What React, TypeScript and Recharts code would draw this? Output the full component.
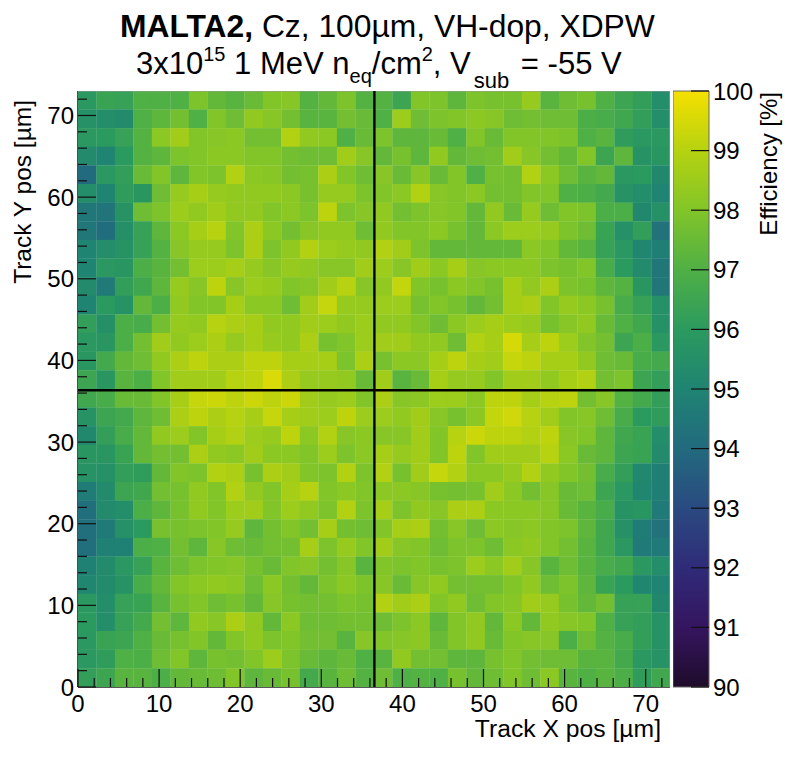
import React from 'react';
import { ScatterChart, Scatter, XAxis, YAxis, ComposedChart, Bar } from 'recharts';

const row00 = [95.9,96.4,96.3,97.0,97.0,97.0,97.9,97.4,97.2,97.5,98.0,98.1,97.1,97.4,97.9,97.1,97.1,96.5,98.0,97.9,97.3,97.9,97.8,97.8,98.4,97.2,97.6,97.8,97.0,96.5,96.2,95.4];
const row01 = [95.6,95.4,95.3,97.0,97.3,97.7,97.0,98.0,97.6,98.3,98.1,97.7,97.2,97.2,97.7,97.5,97.0,98.5,97.6,97.9,98.0,98.2,98.1,97.6,97.7,97.6,97.6,96.9,96.8,96.6,96.2,95.4];
const row02 = [95.9,96.0,96.3,97.1,98.2,98.6,98.0,98.1,98.2,97.7,97.7,98.9,98.3,98.2,97.0,97.5,97.9,97.3,97.3,97.5,97.0,98.0,97.5,98.0,98.0,98.0,97.9,97.0,97.2,96.1,95.9,95.9];
const row03 = [95.3,95.0,96.0,97.1,97.3,97.9,98.0,98.2,98.2,98.0,98.0,97.7,97.6,97.6,98.6,98.1,97.4,97.8,97.3,98.3,97.4,97.6,97.7,98.6,98.1,97.7,97.4,98.0,96.5,97.3,95.7,95.8];
const row04 = [94.0,95.9,96.2,97.5,98.0,97.3,98.0,97.9,98.9,98.2,98.1,97.7,97.8,98.8,98.0,97.6,98.1,97.5,98.1,97.5,98.0,97.0,97.8,97.7,98.9,98.2,97.6,97.2,97.4,95.9,96.0,95.2];
const row05 = [95.4,95.0,96.1,95.8,97.6,98.4,98.7,98.4,98.3,98.3,98.3,98.2,97.8,98.4,98.4,97.9,98.0,98.2,98.9,98.1,98.0,98.2,97.7,97.7,98.0,98.0,97.0,96.9,96.7,95.7,95.4,95.0];
const row06 = [94.5,94.4,95.7,97.6,97.9,98.5,98.3,98.6,98.3,98.3,98.0,98.2,97.9,99.1,97.9,98.1,98.3,97.7,97.9,98.1,98.0,97.4,98.3,97.5,98.4,97.6,98.0,97.9,96.9,96.9,95.2,95.6];
const row07 = [94.5,94.1,95.5,96.3,97.3,98.2,98.7,99.0,98.0,98.8,98.2,97.7,98.1,98.3,98.3,97.6,98.3,98.0,98.0,98.2,97.8,97.4,98.2,98.5,98.5,98.4,97.9,97.6,96.4,95.6,96.2,94.3];
const row08 = [95.0,95.4,95.7,96.3,97.1,98.1,98.4,98.4,97.9,98.8,97.9,98.3,98.9,98.5,98.4,98.3,98.9,98.6,97.9,97.4,97.4,97.4,97.4,97.4,98.2,98.0,97.4,97.2,96.3,95.9,95.1,94.8];
const row09 = [95.0,95.9,95.8,96.9,97.2,97.7,98.5,98.5,98.7,98.4,98.1,98.4,98.3,98.1,98.1,98.6,98.5,98.1,98.6,98.2,98.7,98.1,98.2,98.2,98.2,97.9,97.8,98.0,96.8,96.0,95.3,94.5];
const row10 = [95.3,94.6,96.2,96.6,97.3,98.4,98.1,99.1,98.1,98.5,98.4,98.0,98.1,98.6,99.0,98.1,98.3,99.2,98.0,97.8,98.2,98.0,97.8,98.7,98.3,98.8,97.9,97.8,97.3,97.1,95.8,94.5];
const row11 = [95.0,96.0,95.7,97.4,96.9,98.3,98.0,98.0,98.7,98.2,98.2,97.6,98.6,99.25,98.4,98.4,98.5,98.5,97.8,98.0,97.8,97.4,97.7,98.7,98.8,98.0,98.4,98.2,97.8,96.8,96.3,95.6];
const row12 = [96.2,95.5,96.9,96.8,97.7,98.4,98.3,99.0,98.8,98.7,98.3,98.3,98.6,98.5,98.3,98.5,98.3,98.3,98.0,97.6,98.2,98.5,98.7,98.5,98.4,97.8,98.1,98.3,97.5,97.0,96.6,95.6];
const row13 = [95.9,95.8,96.9,97.7,98.6,98.3,98.5,98.8,98.4,98.7,98.4,98.3,98.8,97.8,98.0,98.5,98.6,98.6,98.3,98.3,97.6,98.9,98.7,99.5,98.7,99.1,98.5,98.0,97.7,96.5,96.9,95.9];
const row14 = [95.8,96.7,97.4,97.6,98.3,98.8,99.1,98.8,98.8,99.1,99.1,98.7,98.7,98.7,97.9,98.8,97.8,98.2,98.2,98.7,99.1,98.7,98.6,99.25,99.1,98.7,98.7,98.3,97.6,97.5,96.8,96.7];
const row15 = [96.5,95.8,97.2,96.9,98.0,98.6,98.6,98.6,99.0,99.1,99.55,98.8,98.4,98.4,98.3,97.5,98.6,97.2,97.5,98.7,98.4,98.4,98.0,98.6,98.6,98.3,98.7,98.9,97.7,97.9,96.5,96.2];
const row16 = [96.6,96.8,97.5,97.5,98.0,98.7,99.25,99.35,99.1,99.35,99.1,99.35,98.6,98.4,98.5,98.0,98.8,98.1,98.2,98.5,98.5,98.2,99.1,99.1,98.7,99.0,99.1,97.7,98.1,97.1,96.7,96.2];
const row17 = [95.7,96.5,96.7,97.3,97.6,98.8,99.1,98.8,99.0,98.7,99.25,98.7,98.6,98.5,99.1,98.5,98.5,98.3,98.6,98.1,97.8,98.2,99.2,99.4,99.0,98.6,98.0,98.1,97.6,96.8,96.0,96.1];
const row18 = [95.2,96.2,96.8,97.4,98.3,98.5,98.0,98.7,98.9,98.5,98.4,99.1,98.2,98.9,98.1,98.2,98.1,98.1,98.6,98.0,99.0,99.35,99.1,99.1,98.9,99.1,98.1,98.0,97.3,96.6,96.4,95.4];
const row19 = [95.8,95.8,96.4,97.4,97.7,97.7,98.8,98.3,98.2,98.6,98.2,98.2,98.0,98.5,97.9,98.2,98.7,98.4,98.6,98.0,99.1,98.0,98.6,98.6,98.6,99.0,98.2,97.5,97.3,96.5,96.4,95.3];
const row20 = [95.7,95.6,96.2,96.1,97.4,98.0,97.9,98.9,98.8,97.8,98.8,98.6,98.0,97.9,98.9,97.9,98.9,97.8,98.6,99.25,98.9,98.2,98.2,98.4,98.9,98.3,98.0,97.7,96.8,96.2,95.2,94.8];
const row21 = [94.7,95.3,96.5,96.6,97.7,97.8,98.3,98.0,98.9,98.3,98.0,98.7,99.0,98.0,98.2,98.0,98.2,98.2,98.1,97.8,97.7,97.8,98.6,98.2,97.7,98.1,97.5,97.6,96.5,95.9,95.1,94.8];
const row22 = [94.2,95.3,95.4,96.9,97.3,97.8,98.3,98.0,98.5,98.6,98.0,98.5,98.3,97.9,98.9,97.9,98.7,97.9,98.3,98.1,98.8,98.8,98.2,98.2,98.2,98.1,97.5,97.2,96.8,95.7,95.8,94.6];
const row23 = [94.2,94.6,95.6,96.0,97.8,97.8,97.9,98.0,98.4,97.3,97.7,98.0,97.7,98.7,97.7,97.6,98.0,98.7,98.8,97.7,98.1,97.6,98.2,98.1,98.2,98.0,97.9,97.3,96.6,95.6,94.7,94.3];
const row24 = [94.2,94.9,94.9,96.9,97.0,97.7,97.3,98.1,97.6,97.5,97.7,97.7,98.7,97.9,98.4,98.0,98.6,98.1,98.0,97.6,97.9,97.9,97.6,98.2,98.3,98.0,97.7,97.2,96.6,95.9,94.6,94.6];
const row25 = [94.9,95.3,95.9,96.3,97.2,97.6,97.9,98.0,98.1,97.8,97.5,98.0,98.1,97.7,98.1,97.2,98.0,97.9,98.0,97.8,97.9,98.5,98.2,98.6,98.1,97.2,97.6,97.2,96.8,96.6,95.9,95.4];
const row26 = [95.1,95.3,95.7,96.8,97.4,98.0,98.2,98.3,98.2,97.6,98.2,97.7,97.4,97.9,98.2,97.9,98.1,97.5,98.1,98.3,97.7,97.7,97.7,98.0,98.3,97.6,97.9,97.3,96.4,96.0,95.1,95.0];
const row27 = [95.9,95.4,96.3,96.4,97.2,97.8,98.0,97.6,97.8,97.4,98.1,97.8,97.7,97.7,97.9,97.8,98.9,98.6,98.8,98.0,98.3,97.6,98.0,98.1,98.6,98.4,97.8,97.4,97.7,96.3,96.3,95.2];
const row28 = [96.0,95.4,96.3,96.7,97.7,97.3,98.3,98.1,98.8,98.3,97.4,98.2,97.6,97.6,97.7,97.7,97.6,97.9,98.2,97.3,98.0,98.3,97.4,98.2,97.4,98.3,98.1,98.0,97.0,96.3,96.2,95.7];
const row29 = [95.9,96.4,96.5,97.0,97.5,97.8,98.0,97.4,98.0,98.3,97.9,98.0,97.7,97.7,97.2,98.1,98.0,98.1,98.2,97.5,98.0,98.3,97.5,98.0,98.1,98.1,96.9,97.6,97.1,96.8,96.2,95.7];
const row30 = [95.9,96.1,97.0,96.9,97.6,98.0,97.3,97.8,97.7,98.0,98.5,97.9,97.5,97.3,97.5,97.0,97.2,98.3,97.7,97.7,97.3,97.3,97.8,98.0,97.7,97.6,97.6,97.2,97.2,96.7,95.9,95.7];
const row31 = [96.2,96.5,97.2,97.2,96.9,97.4,97.5,97.6,98.0,97.3,97.5,97.8,96.7,97.2,97.6,97.1,97.6,97.0,97.1,97.0,97.8,97.4,97.6,98.0,97.6,98.2,97.2,97.0,97.2,96.9,96.1,96.6];

const rows = [row00,row01,row02,row03,row04,row05,row06,row07,row08,row09,row10,row11,row12,row13,row14,row15,row16,row17,row18,row19,row20,row21,row22,row23,row24,row25,row26,row27,row28,row29,row30,row31];

const axisMax = 73;
const crossX = 36.55;
const crossY = 36.35;
const axisTicks = [0,2,4,6,8,10,12,14,16,18,20,22,24,26,28,30,32,34,36,38,40,42,44,46,48,50,52,54,56,58,60,62,64,66,68,70,72];
const barTicks = [90,91,92,93,94,95,96,97,98,99,100];
const barDomain = [90, 100];
const paletteValues = [90,91,92,93,94,95,96,97,98,99,100];
const paletteColours = ['#1e0c2a','#35155f','#2f2b78','#2a4a80','#226a7e','#1f8472','#2b9a5e','#4fb045','#82c528','#b6d210','#f5e000'];

const crossVertical = [{ x: crossX, y: 0 }, { x: crossX, y: axisMax }];
const crossHorizontal = [{ x: 0, y: crossY }, { x: axisMax, y: crossY }];
const frameTopRight = [{ x: 0, y: axisMax }, { x: axisMax, y: axisMax }, { x: axisMax, y: 0 }];

const FONT = '"Liberation Sans", Arial, sans-serif';
const PLOT_W = 592, PLOT_H = 596;
const CELL_W = PLOT_W / rows[0].length + 0.3;
const CELL_H = PLOT_H / rows.length + 0.3;

const hexToRgb = (h: string) => [1,3,5].map(i => parseInt(h.slice(i, i + 2), 16));
const colourFor = (v: number) => {
  let i = Math.min(Math.floor(v - paletteValues[0]), paletteValues.length - 2);
  if (i < 0) i = 0;
  const t = Math.min(1, Math.max(0, v - paletteValues[i]));
  const a = hexToRgb(paletteColours[i]), b = hexToRgb(paletteColours[i + 1]);
  const c = a.map((x, k) => Math.round(x + (b[k] - x) * t));
  return `rgb(${c[0]},${c[1]},${c[2]})`;
};

const binW = axisMax / rows[0].length;
const binH = axisMax / rows.length;
const cells = rows.flatMap((r, ri) => r.map((value, ci) => ({
  x: (ci + 0.5) * binW,
  y: axisMax - (ri + 0.5) * binH,
  value,
})));
const barData = [{ name: 'scale', range: barDomain }];

const CellShape = (p: any) => (
  <rect x={p.cx - CELL_W / 2} y={p.cy - CELL_H / 2} width={CELL_W} height={CELL_H} fill={colourFor(p.payload.value)} />
);
const NoPoint = () => <g />;

const XTick = (p: any) => {
  const v = p.payload.value;
  const major = v % 10 === 0;
  return (
    <g>
      <line x1={p.x} x2={p.x} y1={p.y} y2={p.y - (major ? 18 : 9)} stroke="#111" strokeWidth={1.2} />
      {major && <text x={p.x} y={p.y + 25} textAnchor="middle" fontFamily={FONT} fontSize={24} fill="#000">{v}</text>}
    </g>
  );
};
const YTick = (p: any) => {
  const v = p.payload.value;
  const major = v % 10 === 0;
  return (
    <g>
      <line x1={78} x2={78 + (major ? 18 : 9)} y1={p.y} y2={p.y} stroke="#111" strokeWidth={1.2} />
      {major && <text x={74} y={p.y + 8.5} textAnchor="end" fontFamily={FONT} fontSize={24} fill="#000">{v}</text>}
    </g>
  );
};
const BarTick = (p: any) => (
  <g>
    <line x1={36 - 18} x2={36} y1={p.y} y2={p.y} stroke="#111" strokeWidth={1.2} />
    <text x={40} y={p.y + 8.5} textAnchor="start" fontFamily={FONT} fontSize={24} fill="#000">{p.payload.value}</text>
  </g>
);

export default function App() {
  return (
    <div style={{ position: 'absolute', left: 0, top: 0, width: 788, height: 764, background: '#fff', overflow: 'hidden' }}>
      <div style={{ position: 'absolute', left: 0, top: 0 }}>
        <ScatterChart width={788} height={764} margin={{ top: 91, right: 118, bottom: 0, left: 0 }}>
          <Scatter data={cells} dataKey="value" isAnimationActive={false} shape={<CellShape />} />
          <Scatter data={frameTopRight} isAnimationActive={false} shape={<NoPoint />} line={{ stroke: '#999', strokeWidth: 1.2 }} />
          <Scatter data={crossVertical} isAnimationActive={false} shape={<NoPoint />} line={{ stroke: '#000', strokeWidth: 2.4 }} />
          <Scatter data={crossHorizontal} isAnimationActive={false} shape={<NoPoint />} line={{ stroke: '#000', strokeWidth: 2.4 }} />
          <XAxis type="number" dataKey="x" domain={[0, axisMax]} ticks={axisTicks} interval={0} height={77}
            tick={<XTick />} tickLine={false} tickSize={0} tickMargin={0} allowDataOverflow
            axisLine={{ stroke: '#222', strokeWidth: 1.6 }} />
          <YAxis type="number" dataKey="y" domain={[0, axisMax]} ticks={axisTicks} interval={0} width={78}
            tick={<YTick />} tickLine={false} tickSize={0} tickMargin={0} allowDataOverflow
            axisLine={{ stroke: '#222', strokeWidth: 1.6 }} />
        </ScatterChart>
      </div>
      <div style={{ position: 'absolute', left: 673, top: 0 }}>
        <ComposedChart width={115} height={764} data={barData} barCategoryGap={0} margin={{ top: 91, right: 0, bottom: 77, left: 0 }}>
          <defs>
            <linearGradient id="viridisBar" x1="0" y1="1" x2="0" y2="0">
              {paletteValues.map((v, i) => (
                <stop key={v} offset={`${(v - 90) * 10}%`} stopColor={paletteColours[i]} />
              ))}
            </linearGradient>
          </defs>
          <XAxis dataKey="name" hide />
          <Bar dataKey="range" fill="url(#viridisBar)" stroke="#666" strokeWidth={1} isAnimationActive={false} />
          <YAxis orientation="right" type="number" domain={barDomain} ticks={barTicks} interval={0} width={79}
            tick={<BarTick />} tickLine={false} axisLine={false} tickSize={0} tickMargin={0} />
        </ComposedChart>
      </div>
      <svg width={788} height={764} style={{ position: 'absolute', left: 0, top: 0, pointerEvents: 'none' }} fontFamily={FONT} fill="#000">
        <text x={120} y={37} fontSize={31.8}>
          <tspan fontWeight="bold">MALTA2,</tspan><tspan> Cz, 100µm, VH-dop, XDPW</tspan>
        </text>
        <text x={136} y={74} fontSize={31}>
          3x10<tspan dy={-13} fontSize={20}>15</tspan><tspan dy={13}> 1 MeV n</tspan><tspan dy={9} fontSize={20}>eq</tspan><tspan dy={-9}>/cm</tspan><tspan dy={-13} fontSize={20}>2</tspan><tspan dy={13}>, V</tspan><tspan dy={14} dx={3} fontSize={22}>sub</tspan><tspan dy={-14} dx={3}> = -55 V</tspan>
        </text>
        <text x={661} y={737} textAnchor="end" fontSize={24.7}>Track X pos [µm]</text>
        <text transform="translate(31,100) rotate(-90)" textAnchor="end" fontSize={24.5}>Track Y pos [µm]</text>
        <text transform="translate(777,92) rotate(-90)" textAnchor="end" fontSize={24}>Efficiency [%]</text>
      </svg>
    </div>
  );
}
